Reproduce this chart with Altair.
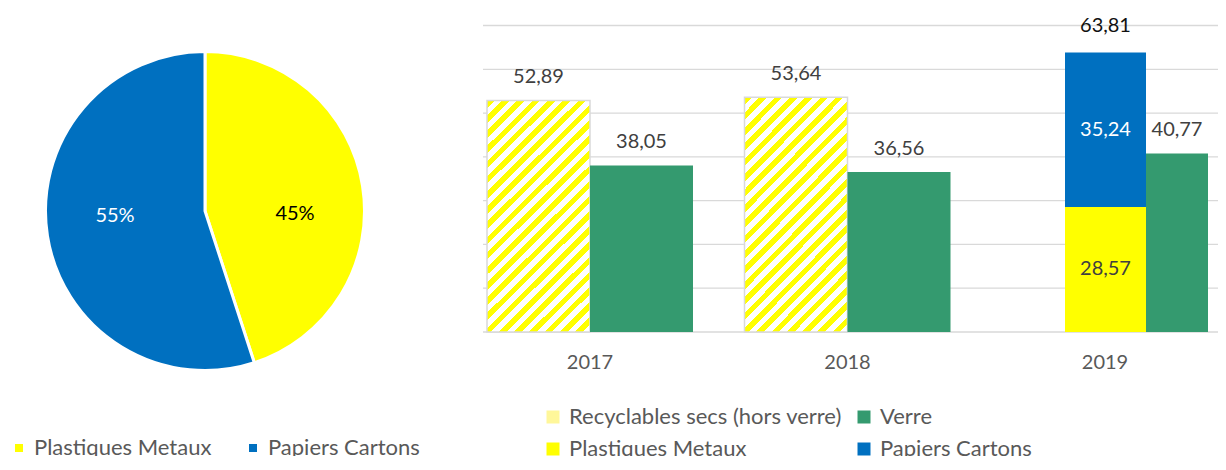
import altair as alt
import pandas as pd

# ---------------- data ----------------
pie_cats = ["Plastiques Metaux", "Papiers Cartons"]
pie_vals = [45, 55]
pie_labels = ["45%", "55%"]
pie_colors = ["#FFFF00", "#0070C0"]

years = ["2017", "2018", "2019"]
recyclables_years = ["2017", "2018"]
recyclables_vals = [52.89, 53.64]
verre_vals = [38.05, 36.56, 40.77]
stack_2019_series = ["Plastiques Metaux", "Papiers Cartons"]
stack_2019_vals = [28.57, 35.24]
grid_vals = [0, 10, 20, 30, 40, 50, 60, 70]

series = ["Recyclables secs (hors verre)", "Verre", "Plastiques Metaux", "Papiers Cartons"]
series_colors = ["#FFF79A", "#349A6F", "#FFFF00", "#0070C0"]


def fmt(v):
    return f"{v:.2f}".replace(".", ",")


# ---------------- tables ----------------
pie_df = pd.DataFrame({"cat": pie_cats, "value": pie_vals, "label": pie_labels,
                       "ord": list(range(len(pie_cats)))})

df_a = pd.DataFrame(
    [{"year": y, "slot": "a", "series": series[0], "value": v, "label": fmt(v)}
     for y, v in zip(recyclables_years, recyclables_vals)]
    + [{"year": y, "slot": "b", "series": "Verre", "value": v, "label": fmt(v)}
       for y, v in zip(years[:2], verre_vals[:2])]
)
df_c = pd.DataFrame([{"year": "2019", "slot": "c", "series": s, "value": v, "label": fmt(v), "ord": i}
                     for i, (s, v) in enumerate(zip(stack_2019_series, stack_2019_vals))])
df_d = pd.DataFrame([{"year": "2019", "slot": "d", "series": "Verre", "value": verre_vals[2],
                      "label": fmt(verre_vals[2])}])
grid_df = pd.DataFrame({"g": grid_vals})

# ---------------- styles ----------------
FONT = "Lato"
LABEL_GREY = "#404040"
LEGEND_GREY = "#595959"
BAR_W, BAR_H = 743, 324
YMAX = 74

# hatched fill (45 degree stripes) as a hard-stop linear gradient
hw, hh = 103.0, 233.0
k = (hw + hh) / (hw * hw + hh * hh)
nper = 22
stops = []
for i in range(nper):
    a, m, b = i / nper, (i + 0.5) / nper, (i + 1) / nper
    stops += [{"offset": a, "color": "#FFFF00"}, {"offset": m, "color": "#FFFF00"},
              {"offset": m, "color": "#FFFFFF"}, {"offset": b, "color": "#FFFFFF"}]
hatch = {"gradient": "linear", "x1": 0, "y1": 0, "x2": hw * k, "y2": hh * k, "stops": stops}

X = alt.X("year:N", scale=alt.Scale(domain=years, range=[-21.75, 750.75], paddingInner=0, paddingOuter=0),
          axis=alt.Axis(title=None, labelAngle=0, ticks=False, domain=False, grid=False, labelPadding=20,
                        labelFontSize=20, labelColor=LEGEND_GREY, labelFont=FONT))

YSCALE = alt.Scale(domain=[0, YMAX], nice=False, zero=True)


def Y(field):
    return alt.Y(field, scale=YSCALE, axis=None)


def XO(domain, rng):
    return alt.XOffset("slot:N", scale=alt.Scale(domain=domain, range=rng, paddingInner=0, paddingOuter=0))


BAR_LEG = alt.Legend(title=None, orient="none", legendX=59, legendY=398, direction="horizontal", columns=2,
                     symbolType="square", symbolSize=169, labelFontSize=22, labelColor=LEGEND_GREY,
                     labelFont=FONT, labelOffset=5, columnPadding=11, rowPadding=10, labelLimit=500,
                     symbolStrokeWidth=0, padding=0)
COLOR = alt.Color("series:N", scale=alt.Scale(domain=series, range=series_colors), legend=BAR_LEG)

# ---- gridlines ----
grid = alt.Chart(grid_df).mark_rule(color="#D9D9D9", strokeWidth=1.3).encode(
    y=Y("g:Q"), x=alt.value(0), x2=alt.value(BAR_W))

# ---- 2017 / 2018 groups ----
xo_a = XO(["a", "b"], [25.75, 231.75])
base_a = alt.Chart(df_a).encode(x=X, xOffset=xo_a, y=Y("value:Q"))
hatched = base_a.transform_filter(alt.datum.series == series[0]).mark_bar(
    fill=hatch, stroke="#D9D9D9", strokeWidth=1.5)
verre_a = base_a.transform_filter(alt.datum.series == "Verre").mark_bar().encode(color=COLOR)
text_a = base_a.mark_text(dy=-23, fontSize=20, color=LABEL_GREY, font=FONT).encode(text="label:N")
layer_a = alt.layer(hatched, verre_a, text_a)

# ---- 2019 stacked ----
xo_c = XO(["c"], [88.75, 169.75])
stacked = alt.Chart(df_c).transform_stack(
    stack="value", groupby=["year"], as_=["v0", "v1"], sort=[alt.SortField("ord", order="ascending")]
).transform_calculate(mid="(datum.v0 + datum.v1) / 2")
bars_c = stacked.mark_bar().encode(x=X, xOffset=xo_c, y=Y("v1:Q"), y2="v0:Q", color=COLOR)
text_c = stacked.mark_text(fontSize=20, font=FONT).encode(
    x=X, xOffset=xo_c, y=Y("mid:Q"), text="label:N",
    color=alt.when(alt.datum.series == "Papiers Cartons").then(alt.value("white")).otherwise(alt.value(LABEL_GREY)))
total_c = alt.Chart(df_c).transform_aggregate(total="sum(value)", groupby=["year", "slot"]).transform_calculate(
    tl="replace(format(datum.total, '.2f'), '.', ',')"
).mark_text(dy=-27, fontSize=20, color="#111111", font=FONT).encode(
    x=X, xOffset=xo_c, y=Y("total:Q"), text="tl:N")
layer_c = alt.layer(bars_c, text_c, total_c)

# ---- 2019 verre ----
xo_d = XO(["d"], [169.75, 231.75])
base_d = alt.Chart(df_d).encode(x=X, xOffset=xo_d, y=Y("value:Q"))
bars_d = base_d.mark_bar().encode(color=COLOR)
text_d = base_d.mark_text(dy=-23, fontSize=20, color=LABEL_GREY, font=FONT).encode(text="label:N")
layer_d = alt.layer(bars_d, text_d)

bar_view = alt.layer(grid, layer_a, layer_c, layer_d).resolve_scale(xOffset="independent").properties(
    width=BAR_W, height=BAR_H)

# ---------------- pie ----------------
PIE_LEG = alt.Legend(title=None, orient="none", legendX=0, legendY=429, direction="horizontal", columns=2,
                     symbolType="square", symbolSize=64, labelFontSize=22, labelColor=LEGEND_GREY,
                     labelFont=FONT, labelOffset=4, columnPadding=30, labelLimit=500, symbolStrokeWidth=0,
                     padding=0)
pie_base = alt.Chart(pie_df).encode(theta=alt.Theta("value:Q", stack=True), order=alt.Order("ord:Q"))
arcs = pie_base.mark_arc(outerRadius=159.5, stroke="white", strokeWidth=3).encode(
    color=alt.Color("cat:N", scale=alt.Scale(domain=pie_cats, range=pie_colors), legend=PIE_LEG))
pie_text = pie_base.mark_text(radius=90, fontSize=20, font=FONT, thetaOffset=0.15, dy=4).encode(
    text="label:N",
    color=alt.when(alt.datum.cat == "Papiers Cartons").then(alt.value("white")).otherwise(alt.value("black")))
pie = alt.layer(arcs, pie_text).properties(width=394, height=406)

chart = alt.hconcat(
    pie, bar_view, spacing=81, bounds="flush",
    padding={"left": 0, "top": 0, "right": -38, "bottom": -4},
).resolve_scale(color="independent").configure(font=FONT).configure_view(stroke=None)

chart.save("out.html", embed_options={"renderer": "svg", "actions": False})
